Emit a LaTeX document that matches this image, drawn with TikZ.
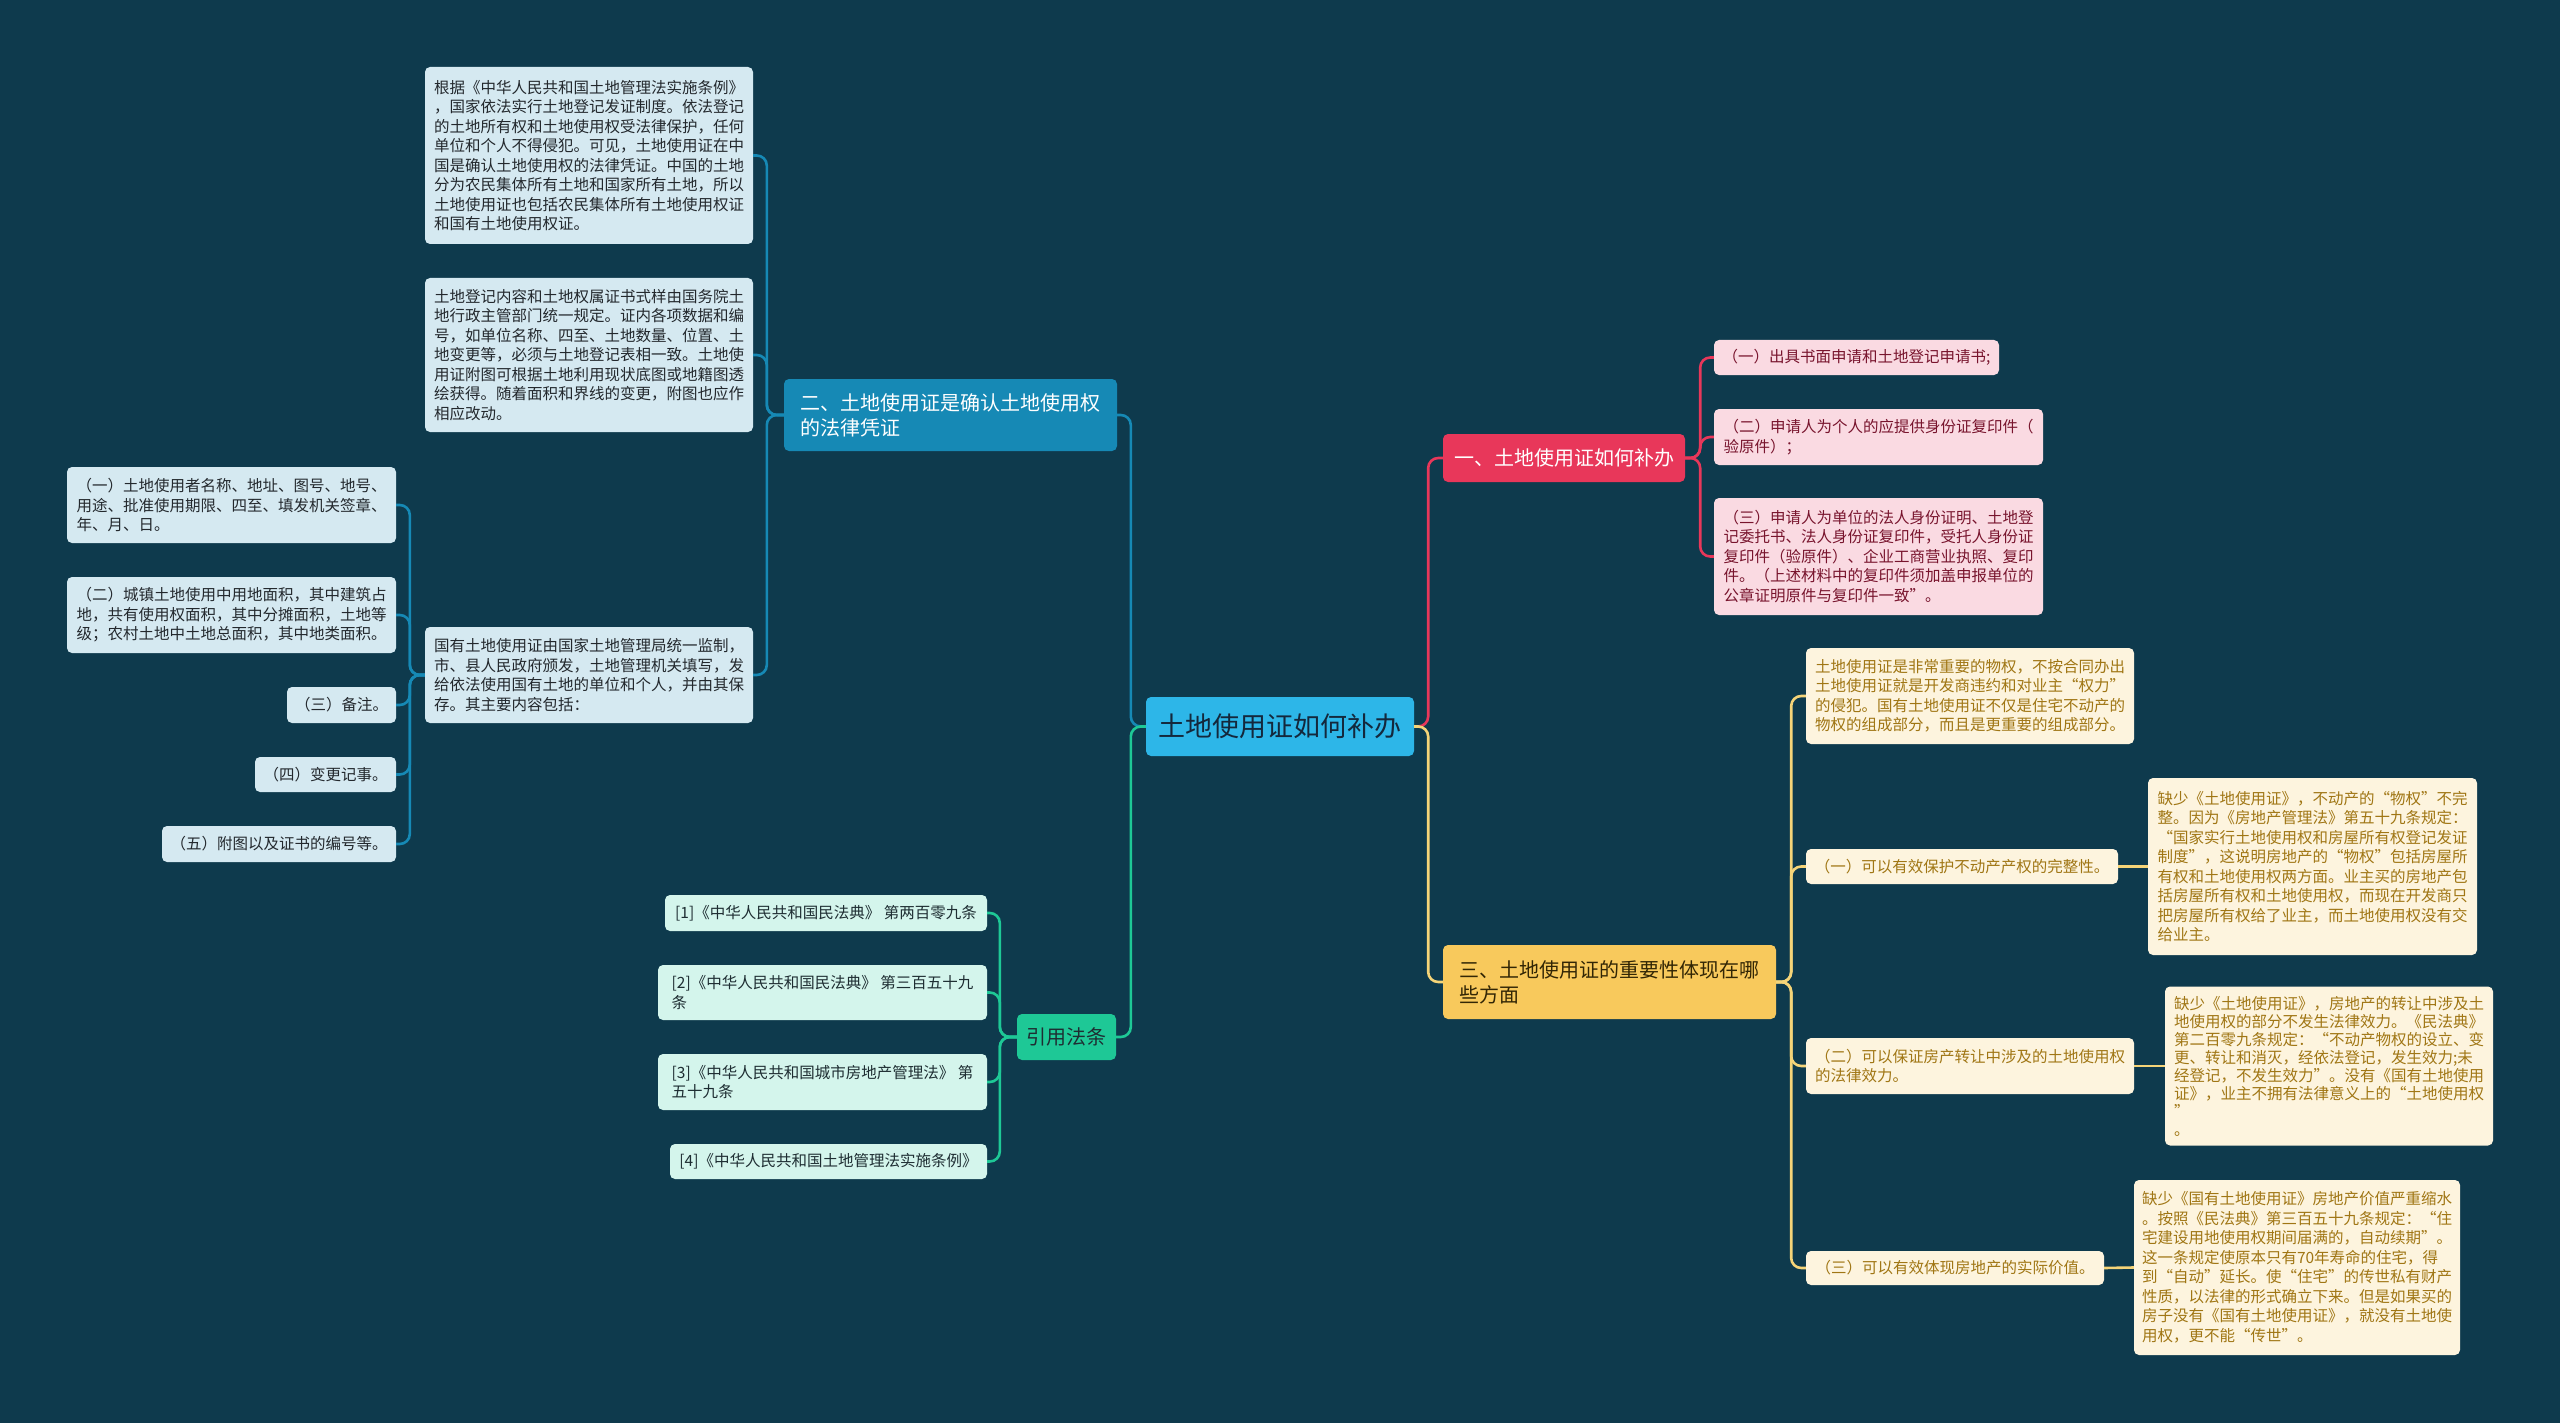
\documentclass[tikz,border=0pt]{standalone}
\usepackage{fontspec}
\setmainfont{Noto Sans CJK SC}
\definecolor{bg}{RGB}{14,58,77}
\definecolor{cfill}{RGB}{45,182,232}
\definecolor{ctext}{RGB}{20,40,60}
\definecolor{bmain}{RGB}{22,137,181}
\definecolor{bleaf}{RGB}{213,233,241}
\definecolor{btext}{RGB}{35,40,45}
\definecolor{pmain}{RGB}{232,55,90}
\definecolor{pleaf}{RGB}{250,218,226}
\definecolor{ptext}{RGB}{120,20,45}
\definecolor{gmain}{RGB}{30,200,150}
\definecolor{gleaf}{RGB}{212,245,236}
\definecolor{gtext}{RGB}{30,45,50}
\definecolor{ymain}{RGB}{248,201,92}
\definecolor{yline}{RGB}{245,212,120}
\definecolor{yleaf}{RGB}{253,244,222}
\definecolor{ytext}{RGB}{160,118,20}
\definecolor{ymtext}{RGB}{50,38,5}
\begin{document}
\begin{tikzpicture}[x=1pt,y=-1pt,
  box/.style={rounded corners=5pt, inner xsep=8pt, inner ysep=6pt, align=left},
  leaf/.style={box, font=\fontsize{15.5}{19.5}\selectfont},
  mainbox/.style={box, font=\fontsize{20}{25}\selectfont},
  bleafs/.style={leaf, fill=bleaf, text=btext},
  pleafs/.style={leaf, fill=pleaf, text=ptext},
  gleafs/.style={leaf, fill=gleaf, text=gtext},
  yleafs/.style={leaf, fill=yleaf, text=ytext},
  conn/.style={line width=2.6pt, rounded corners=10pt},
  bl/.style={conn, draw=bmain},
  pl/.style={conn, draw=pmain},
  gl/.style={conn, draw=gmain},
  yl/.style={conn, draw=yline}]
\fill[bg] (0,0) rectangle (2560,1423);
\useasboundingbox (0,0) rectangle (2560,1423);

% central
\node[box, fill=cfill, text=ctext, font=\fontsize{27}{32}\selectfont, minimum width=268pt, minimum height=59pt] (C) at (1280,726.5) {土地使用证如何补办};

% pink branch
\node[mainbox, fill=pmain, text=white, minimum width=242pt, minimum height=48pt] (P) at (1564,458) {一、土地使用证如何补办};
\node[pleafs, minimum width=285pt, minimum height=35pt] (P1) at (1856.5,357.5) {（一）出具书面申请和土地登记申请书;};
\node[pleafs, minimum width=329pt, minimum height=56pt] (P2) at (1878.5,437) {（二）申请人为个人的应提供身份证复印件（\\验原件）；};
\node[pleafs, minimum width=329pt, minimum height=117pt] (P3) at (1878.5,556.5) {（三）申请人为单位的法人身份证明、土地登\\记委托书、法人身份证复印件，受托人身份证\\复印件（验原件）、企业工商营业执照、复印\\件。（上述材料中的复印件须加盖申报单位的\\公章证明原件与复印件一致”。};

% blue branch
\node[mainbox, fill=bmain, text=white, minimum width=333pt, minimum height=72pt] (B) at (950.5,415) {二、土地使用证是确认土地使用权\\的法律凭证};
\node[bleafs, minimum width=328pt, minimum height=177pt] (B1) at (589,155.5) {根据《中华人民共和国土地管理法实施条例》\\，国家依法实行土地登记发证制度。依法登记\\的土地所有权和土地使用权受法律保护，任何\\单位和个人不得侵犯。可见，土地使用证在中\\国是确认土地使用权的法律凭证。中国的土地\\分为农民集体所有土地和国家所有土地，所以\\土地使用证也包括农民集体所有土地使用权证\\和国有土地使用权证。};
\node[bleafs, minimum width=328pt, minimum height=154pt] (B2) at (589,355) {土地登记内容和土地权属证书式样由国务院土\\地行政主管部门统一规定。证内各项数据和编\\号，如单位名称、四至、土地数量、位置、土\\地变更等，必须与土地登记表相一致。土地使\\用证附图可根据土地利用现状底图或地籍图透\\绘获得。随着面积和界线的变更，附图也应作\\相应改动。};
\node[bleafs, minimum width=328pt, minimum height=96pt] (B3) at (589,675) {国有土地使用证由国家土地管理局统一监制，\\市、县人民政府颁发，土地管理机关填写，发\\给依法使用国有土地的单位和个人，并由其保\\存。其主要内容包括：};
\node[bleafs, minimum width=329pt, minimum height=76pt] (B31) at (231.5,505) {（一）土地使用者名称、地址、图号、地号、\\用途、批准使用期限、四至、填发机关签章、\\年、月、日。};
\node[bleafs, minimum width=329pt, minimum height=76pt] (B32) at (231.5,615) {（二）城镇土地使用中用地面积，其中建筑占\\地，共有使用权面积，其中分摊面积，土地等\\级；农村土地中土地总面积，其中地类面积。};
\node[bleafs, minimum width=109pt, minimum height=36pt] (B33) at (341.5,705) {（三）备注。};
\node[bleafs, minimum width=141pt, minimum height=35pt] (B34) at (325.5,774.5) {（四）变更记事。};
\node[bleafs, minimum width=234pt, minimum height=36pt] (B35) at (279,844) {（五）附图以及证书的编号等。};

% green branch
\node[mainbox, fill=gmain, text=gtext, minimum width=99pt, minimum height=46pt] (G) at (1066.5,1037) {引用法条};
\node[gleafs, minimum width=322pt, minimum height=36pt] (G1) at (826,913) {[1]《中华人民共和国民法典》 第两百零九条};
\node[gleafs, minimum width=329pt, minimum height=55pt] (G2) at (822.5,992.5) {[2]《中华人民共和国民法典》 第三百五十九\\条};
\node[gleafs, minimum width=329pt, minimum height=56pt] (G3) at (822.5,1082) {[3]《中华人民共和国城市房地产管理法》 第\\五十九条};
\node[gleafs, minimum width=317pt, minimum height=35pt] (G4) at (828.5,1161.5) {[4]《中华人民共和国土地管理法实施条例》};

% yellow branch
\node[mainbox, fill=ymain, text=ymtext, minimum width=333pt, minimum height=74pt] (Y) at (1609.5,982) {三、土地使用证的重要性体现在哪\\些方面};
\node[yleafs, minimum width=328pt, minimum height=96pt] (Y1) at (1970,696) {土地使用证是非常重要的物权，不按合同办出\\土地使用证就是开发商违约和对业主“权力”\\的侵犯。国有土地使用证不仅是住宅不动产的\\物权的组成部分，而且是更重要的组成部分。};
\node[yleafs, minimum width=312pt, minimum height=35pt] (Y2) at (1962,866.5) {（一）可以有效保护不动产产权的完整性。};
\node[yleafs, minimum width=329pt, minimum height=177pt] (Y2c) at (2312.5,866.5) {缺少《土地使用证》，不动产的“物权”不完\\整。因为《房地产管理法》第五十九条规定：\\“国家实行土地使用权和房屋所有权登记发证\\制度”，这说明房地产的“物权”包括房屋所\\有权和土地使用权两方面。业主买的房地产包\\括房屋所有权和土地使用权，而现在开发商只\\把房屋所有权给了业主，而土地使用权没有交\\给业主。};
\node[yleafs, minimum width=328pt, minimum height=56pt] (Y3) at (1970,1066) {（二）可以保证房产转让中涉及的土地使用权\\的法律效力。};
\node[yleafs, font=\fontsize{15.5}{18}\selectfont, minimum width=328pt, minimum height=159pt] (Y3c) at (2329,1066) {缺少《土地使用证》，房地产的转让中涉及土\\地使用权的部分不发生法律效力。《民法典》\\第二百零九条规定：“不动产物权的设立、变\\更、转让和消灭，经依法登记，发生效力;未\\经登记，不发生效力”。没有《国有土地使用\\证》，业主不拥有法律意义上的“土地使用权\\”\\。};
\node[yleafs, minimum width=298pt, minimum height=34pt] (Y4) at (1955,1268) {（三）可以有效体现房地产的实际价值。};
\node[yleafs, minimum width=326pt, minimum height=175pt] (Y4c) at (2297,1267.5) {缺少《国有土地使用证》房地产价值严重缩水\\。按照《民法典》第三百五十九条规定：“住\\宅建设用地使用权期间届满的，自动续期”。\\这一条规定使原本只有70年寿命的住宅，得\\到“自动”延长。使“住宅”的传世私有财产\\性质，以法律的形式确立下来。但是如果买的\\房子没有《国有土地使用证》，就没有土地使\\用权，更不能“传世”。};

% connectors
\draw[pl] (C.east) -- ++(14,0) |- (P.west);
\draw[yl] (C.east) -- ++(14,0) |- (Y.west);
\draw[bl] (C.west) -- ++(-15,0) |- (B.east);
\draw[gl] (C.west) -- ++(-15,0) |- (G.east);

\draw[pl] (P.east) -- ++(15,0) |- (P1.west);
\draw[pl] (P.east) -- ++(15,0) |- (P2.west);
\draw[pl] (P.east) -- ++(15,0) |- (P3.west);

\draw[bl] (B.west) -- ++(-17,0) |- (B1.east);
\draw[bl] (B.west) -- ++(-17,0) |- (B2.east);
\draw[bl] (B.west) -- ++(-17,0) |- (B3.east);

\draw[bl] (B3.west) -- ++(-15,0) |- (B31.east);
\draw[bl] (B3.west) -- ++(-15,0) |- (B32.east);
\draw[bl] (B3.west) -- ++(-15,0) |- (B33.east);
\draw[bl] (B3.west) -- ++(-15,0) |- (B34.east);
\draw[bl] (B3.west) -- ++(-15,0) |- (B35.east);

\draw[gl] (G.west) -- ++(-17,0) |- (G1.east);
\draw[gl] (G.west) -- ++(-17,0) |- (G2.east);
\draw[gl] (G.west) -- ++(-17,0) |- (G3.east);
\draw[gl] (G.west) -- ++(-17,0) |- (G4.east);

\draw[yl] (Y.east) -- ++(15,0) |- (Y1.west);
\draw[yl] (Y.east) -- ++(15,0) |- (Y2.west);
\draw[yl] (Y.east) -- ++(15,0) |- (Y3.west);
\draw[yl] (Y.east) -- ++(15,0) |- (Y4.west);

\draw[yl] (Y2.east) -- (Y2c.west);
\draw[yl] (Y3.east) -- (Y3c.west);
\draw[yl] (Y4.east) -- (Y4c.west);
\end{tikzpicture}
\end{document}
